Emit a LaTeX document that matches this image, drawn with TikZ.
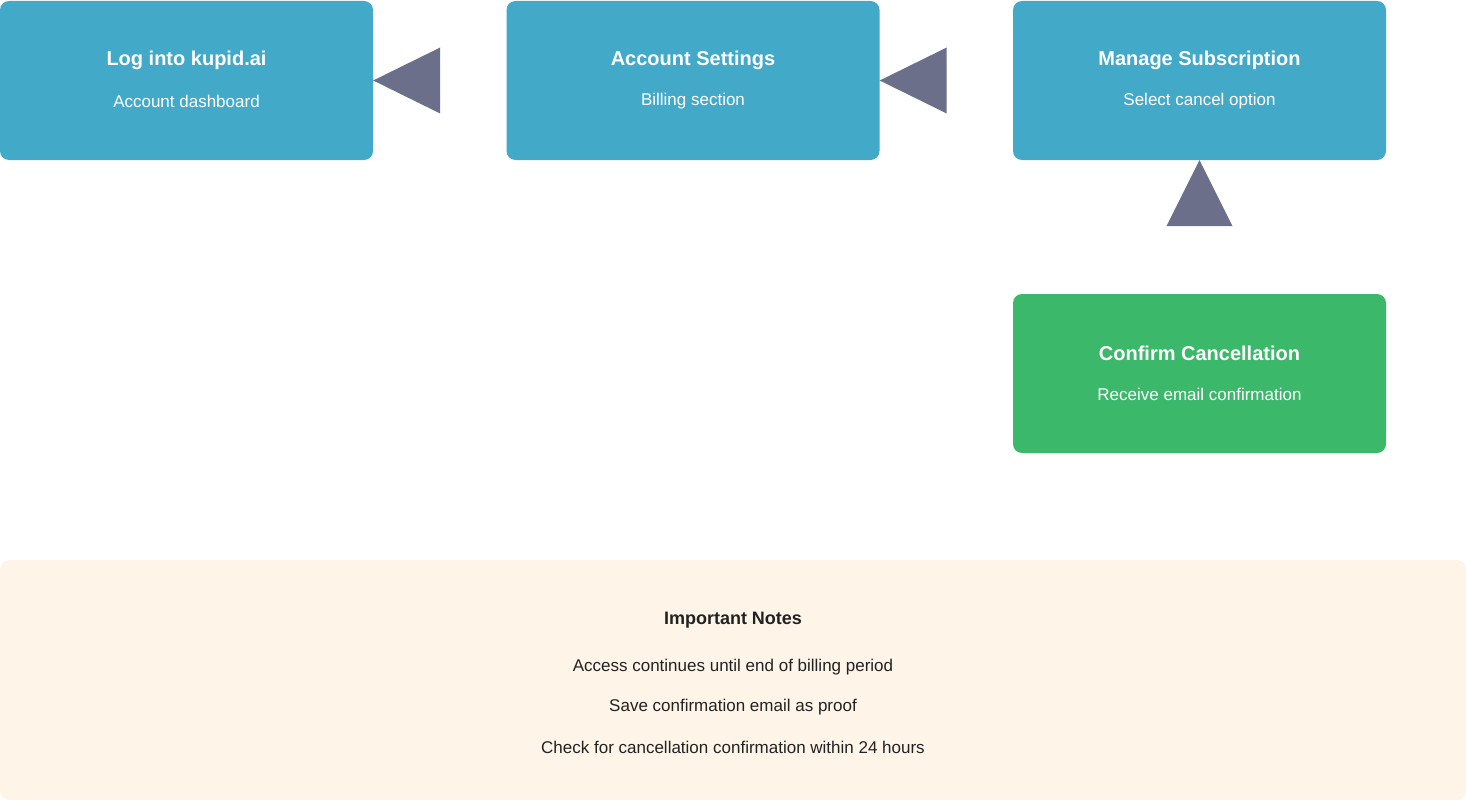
\documentclass[tikz,border=0pt]{standalone}
\usepackage{fontspec}
\setmainfont{Liberation Sans}
\usetikzlibrary{positioning}
\definecolor{stepblue}{HTML}{42A9C9}
\definecolor{stepgreen}{HTML}{3CB86B}
\definecolor{notebg}{HTML}{FEF5E8}
\definecolor{arrowgray}{HTML}{6B6F8A}
\definecolor{notetext}{HTML}{222222}
\begin{document}
\begin{tikzpicture}[x=1pt,y=-1pt,
  stepbox/.style={draw=none,fill=stepblue,rounded corners=9pt,minimum width=373pt,minimum height=159pt,inner sep=0pt,text=white,align=center},
  donebox/.style={stepbox,fill=stepgreen},
  head/.style={font=\fontsize{20}{24}\selectfont\bfseries},
  sub/.style={font=\fontsize{17}{20}\selectfont}]
\useasboundingbox (0,0) rectangle (1466,800);

\node[stepbox] (login) at (186.5,80.5) {};
\node[stepbox] (settings) at (693,80.5) {};
\node[stepbox] (manage) at (1199.5,80.5) {};
\node[donebox] (confirm) at (1199.5,373.5) {};
\fill[notebg,rounded corners=9pt] (0,560) rectangle (1466,800);

\node[head,text=white] (t1) at (186.5,60) {Log into kupid.ai};
\node[sub,text=white] (s1) at (186.5,101) {Account dashboard};
\node[head,text=white] (t2) at (693,60) {Account Settings};
\node[sub,text=white] (s2) at (693,101) {Billing section};
\node[head,text=white] (t3) at (1199.5,60) {Manage Subscription};
\node[sub,text=white] (s3) at (1199.5,101) {Select cancel option};
\node[head,text=white] (t4) at (1199.5,353) {Confirm Cancellation};
\node[sub,text=white] (s4) at (1199.5,394) {Receive email confirmation};

\node[text=notetext,font=\fontsize{18}{22}\selectfont\bfseries] (nt) at (733,620) {Important Notes};
\node[sub,text=notetext] (n1) at (733,667) {Access continues until end of billing period};
\node[sub,text=notetext] (n2) at (733,707) {Save confirmation email as proof};
\node[sub,text=notetext] (n3) at (733,747) {Check for cancellation confirmation within 24 hours};

% arrowheads
\fill[arrowgray] (login.east) -- ++(67,-33) -- ++(0,66) -- cycle;
\fill[arrowgray] (settings.east) -- ++(67,-33) -- ++(0,66) -- cycle;
\fill[arrowgray] (manage.south) -- ++(-33,66) -- ++(66,0) -- cycle;
\end{tikzpicture}
\end{document}
